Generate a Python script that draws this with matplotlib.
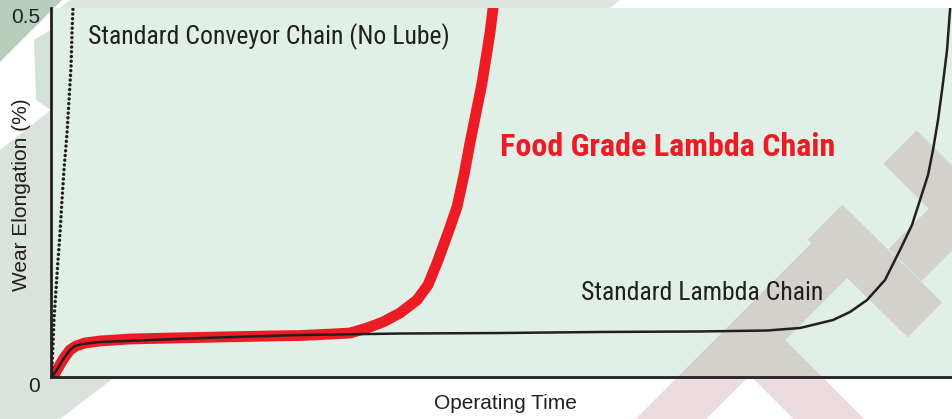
import matplotlib
matplotlib.use('Agg')
import matplotlib.pyplot as plt
from matplotlib.patches import Polygon, PathPatch
from matplotlib.path import Path
import numpy as np

# wear curves (time in % of axis, elongation in %)
red_t = [0.22, 0.78, 1.44, 2.11, 2.77, 3.77, 5.44, 8.77, 13.21, 18.76, 24.31, 27.64,
         31.30, 33.19, 35.07, 36.85, 38.73, 40.62, 41.84, 42.84, 44.06, 45.06, 45.84,
         46.50, 47.17, 47.84, 48.28, 48.72, 49.06, 49.17]
red_w = [0.0, 0.0122, 0.0257, 0.0366, 0.0420, 0.0461, 0.0488, 0.0515, 0.0528, 0.0542,
         0.0556, 0.0562, 0.0583, 0.0596, 0.0664, 0.0745, 0.0867, 0.1043, 0.1247, 0.1545,
         0.1951, 0.2304, 0.2737, 0.3171, 0.3577, 0.3984, 0.4322, 0.4661, 0.5, 0.5176]

std_t = [0.11, 0.78, 1.44, 2.11, 2.66, 3.44, 5.44, 10.99, 16.54, 27.64, 38.73, 49.83,
         60.93, 72.03, 79.47, 83.13, 86.79, 88.68, 90.57, 92.56, 94.23, 95.56, 96.45,
         97.34, 97.89, 98.45, 99.00, 99.45, 99.78, 99.89]
std_w = [0.0, 0.0122, 0.0257, 0.0366, 0.0420, 0.0447, 0.0474, 0.0501, 0.0528, 0.0569,
         0.0589, 0.0596, 0.0610, 0.0617, 0.0630, 0.0664, 0.0772, 0.0881, 0.1043, 0.1314,
         0.1721, 0.2060, 0.2398, 0.2737, 0.3076, 0.3482, 0.3984, 0.4431, 0.4973, 0.5176]

conv_t = [0.11, 0.11, 0.22, 0.33, 0.55, 0.78, 1.00, 1.22, 1.44, 1.78, 2.00, 2.22, 2.33, 2.44, 2.55]
conv_w = [0.0, 0.0136, 0.0434, 0.0772, 0.1179, 0.1585, 0.1951, 0.2398, 0.2805, 0.3306,
          0.3753, 0.4201, 0.4661, 0.5, 0.5176]

ytick_vals = [0, 0.5]
ytick_labels = ['0', '0.5']

W, H = 952, 419
fig = plt.figure(figsize=(W / 100, H / 100), dpi=100)
fig.patch.set_facecolor('white')


def px(pts):
    return [(x / W, 1 - y / H) for x, y in pts]


# background decoration behind the chart (green shapes on the left)
deco = [([(0, 0), (62, 0), (0, 62)], '#b8cebd'),
        ([(70, 0), (620, 0), (610, 8), (60, 8)], '#dce6df'),
        ([(0, 150), (51, 110), (51, 377), (115, 377), (60, 419), (0, 419)], '#d9e3dc'),
        ([(34, 40), (51, 30), (51, 110), (36, 100)], '#d3e2d7')]
for pts, c in deco:
    fig.patches.append(Polygon(px(pts), closed=True, transform=fig.transFigure,
                               fc=c, ec='none', zorder=-1))

ax = fig.add_axes([51 / W, (H - 377) / H, (W - 51) / W, (377 - 8) / H])
ax.set_facecolor('#e0f0e6')

# faint lattice watermark (grey on the plot, pink below it), one path so overlaps don't darken
bands = [((640, 450), (830, 260), 50),
         ((825, 222), (925, 320), 49),
         ((900, 147), (1000, 247), 47),
         ((755, 345), (865, 455), 50),
         ((905, 265), (990, 180), 46)]
verts, codes = [], []
for (x0, y0), (x1, y1), w in bands:
    d = np.array([x1 - x0, y1 - y0], float)
    n = np.array([-d[1], d[0]]) / np.hypot(*d) * w / 2
    quad = [(x0 + n[0], y0 + n[1]), (x1 + n[0], y1 + n[1]),
            (x1 - n[0], y1 - n[1]), (x0 - n[0], y0 - n[1])]
    verts += px(quad) + [(0, 0)]
    codes += [Path.MOVETO, Path.LINETO, Path.LINETO, Path.LINETO, Path.CLOSEPOLY]
ax.add_patch(PathPatch(Path(verts, codes), transform=fig.transFigure, clip_on=False,
                       fc='#a86472', alpha=0.22, ec='none', zorder=0.5))

ax.plot(red_t, red_w, color='#ed1c24', lw=7.8, solid_capstyle='butt',
        solid_joinstyle='round', zorder=2)
ax.plot(std_t, std_w, color='#231f20', lw=1.8, solid_joinstyle='round', zorder=3)
ax.plot(conv_t, conv_w, color='#231f20', lw=2.5, linestyle=(0, (0.01, 1.35)),
        dash_capstyle='round', zorder=3)

ax.set_xlim(0, 100)
ax.set_ylim(0, 0.5)

for s in ['top', 'right']:
    ax.spines[s].set_visible(False)
for s in ['left', 'bottom']:
    ax.spines[s].set_color('#231f20')
    ax.spines[s].set_linewidth(2.0)
    ax.spines[s].set_zorder(4)

lab_font = ['Liberation Sans', 'DejaVu Sans']
nar_font = ['Roboto Condensed', 'Archivo Narrow', 'DejaVu Sans']

ax.set_xticks([])
ax.set_yticks(ytick_vals)
ax.set_yticklabels(ytick_labels, family=lab_font, fontsize=15, color='#231f20', va='top')
ax.tick_params(axis='y', length=0, pad=8)

fig.text(22 / W, 1 - 195 / H, 'Wear Elongation (%)', rotation=90, ha='center', va='center',
         family=lab_font, fontsize=15, color='#231f20')
fig.text(505 / W, 1 - 403 / H, 'Operating Time', ha='center', va='center',
         family=lab_font, fontsize=15, color='#231f20')

ax.text(4.1, 0.4607, 'Standard Conveyor Chain (No Lube)', ha='left', va='center',
        family=nar_font, fontsize=18.5, color='#231f20', zorder=5)
ax.text(49.83, 0.3117, 'Food Grade Lambda Chain', ha='left', va='center',
        family=nar_font, fontsize=23, fontweight='bold', color='#ed1c24', zorder=5)
ax.text(58.82, 0.1138, 'Standard Lambda Chain', ha='left', va='center',
        family=nar_font, fontsize=18.5, color='#231f20', zorder=5)

fig.savefig('out.png', dpi=100)
